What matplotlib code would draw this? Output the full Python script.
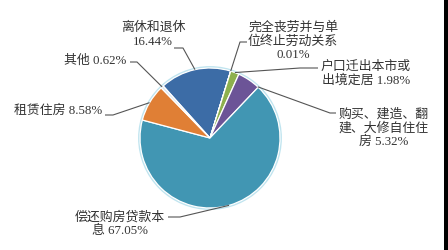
import numpy as np
import matplotlib
matplotlib.use("Agg")
import matplotlib.pyplot as plt
from matplotlib.patches import Rectangle, Circle

plt.rcParams['font.family'] = ['Liberation Serif', 'Noto Sans CJK SC', 'DejaVu Sans']

categories = ["离休和退休", "完全丧劳并与单位终止劳动关系", "户口迁出本市或出境定居",
              "购买、建造、翻建、大修自住住房", "偿还购房贷款本息", "租赁住房", "其他"]
values = [16.44, 0.01, 1.98, 5.32, 67.05, 8.58, 0.62]
label_texts = ["离休和退休\n16.44%", "完全丧劳并与单\n位终止劳动关系\n0.01%",
               "户口迁出本市或\n出境定居 1.98%", "购买、建造、翻\n建、大修自住住\n房 5.32%",
               "偿还购房贷款本\n息 67.05%", "租赁住房 8.58%", "其他 0.62%"]
colors = ["#3C6CA6", "#6A8FC0", "#8DB04E", "#6C5497", "#4196B3", "#E07F35", "#DCE6EE"]

W, H = 448, 250
fig = plt.figure(figsize=(W / 100, H / 100), dpi=100)
ax = fig.add_axes([0, 0, 1, 1])
ax.set_xlim(0, W)
ax.set_ylim(0, H)
ax.set_aspect('equal')
ax.axis('off')

cx, cy, R = 210, 250 - 138, 70
start = 132

# soft outer rim
ax.add_patch(Circle((cx, cy), R + 0.8, facecolor='none', edgecolor='#BFE4EF', lw=1.6, zorder=0))
wedges, _ = ax.pie(values, colors=colors, startangle=start, counterclock=False,
                   center=(cx, cy), radius=R,
                   wedgeprops=dict(edgecolor='white', linewidth=0.9))
ax.set_xlim(0, W)
ax.set_ylim(0, H)

# label layout: (text centre x, y px), (leader start x, y px), (elbow x, y px), anchor angle override
layout = [
    ((153, 35), (174, 48), (183, 48), None),
    ((293, 41), (247, 42), (240, 42), None),
    ((366, 74), (318, 68), (300, 68), None),
    ((384, 128), (336, 113), (330, 113), 47.0),
    ((120, 224), (168, 217), (180, 217), None),
    ((58, 111), (105, 115), (113, 115), None),
    ((95, 61), (130, 62), (137, 62), None),
]

theta = start
for i, v in enumerate(values):
    span = v / sum(values) * 360
    mid = theta - span / 2
    theta -= span
    (tx, ty), (sx, sy), (ex, ey), ang = layout[i]
    a = np.deg2rad(ang if ang is not None else mid)
    axp, ayp = cx + R * np.cos(a), cy + R * np.sin(a)
    ax.text(tx, H - ty, label_texts[i], ha='center', va='center', fontsize=9.3,
            color='#333333', linespacing=1.15)
    ax.plot([sx, ex, axp], [H - sy, H - ey, ayp], color='#555555', lw=0.8,
            solid_capstyle='butt')

fig.patches.append(Rectangle((444 / W, 0), 4 / W, 1, transform=fig.transFigure,
                             facecolor='black', edgecolor='none'))

fig.savefig("out.png", dpi=100, facecolor='white')
